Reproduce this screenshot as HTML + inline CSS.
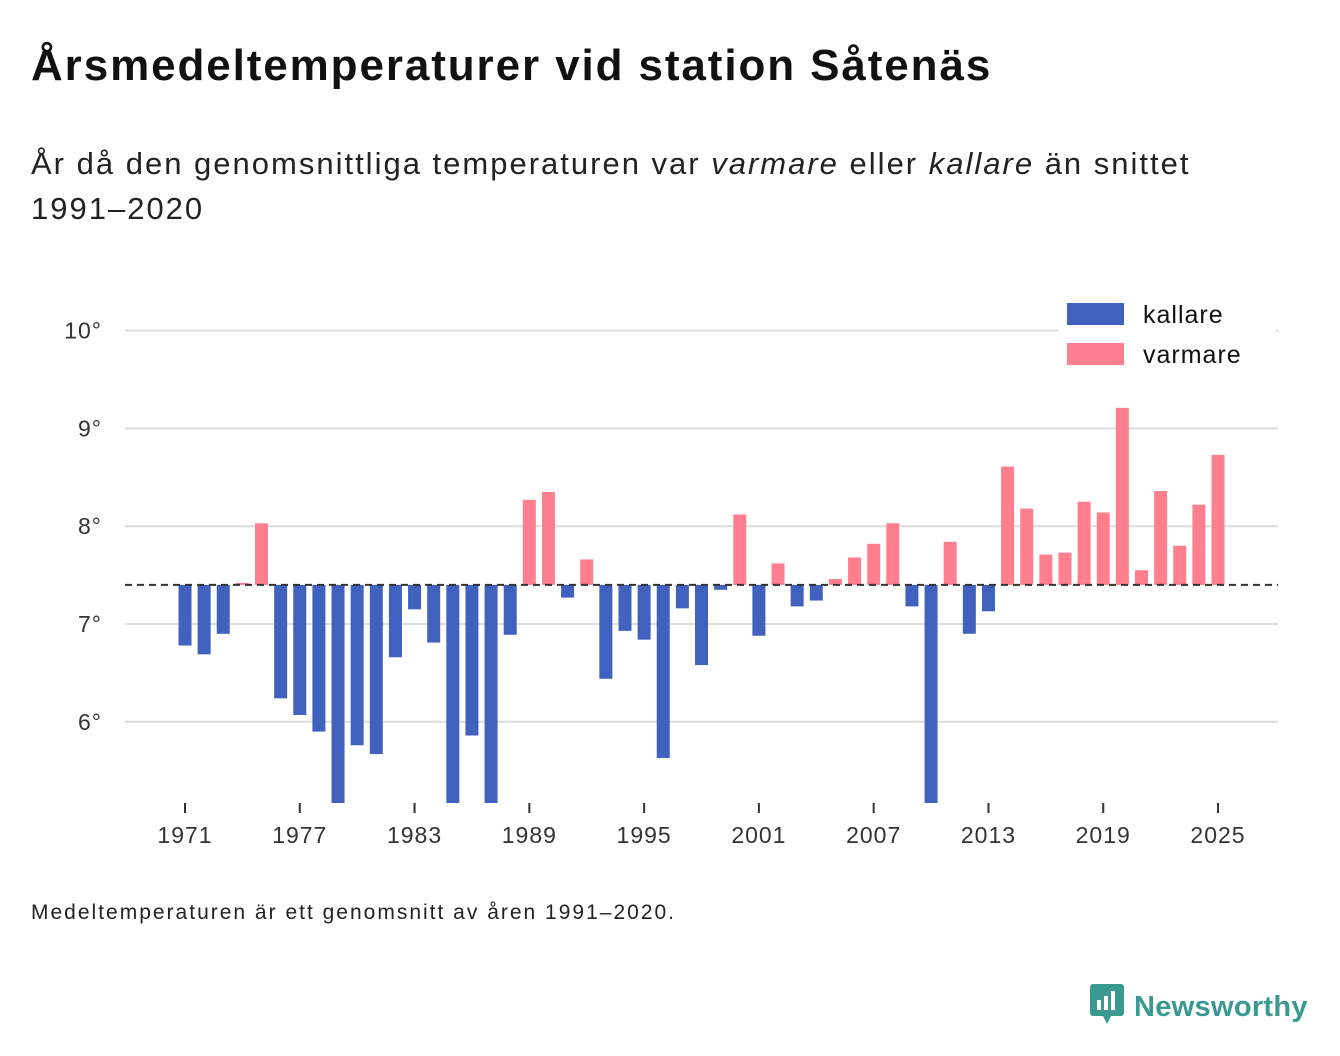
<!DOCTYPE html>
<html><head><meta charset="utf-8"><style>
body{margin:0;background:#fff;font-family:"Liberation Sans","DejaVu Sans",sans-serif;color:#111;}
#wrap{position:relative;width:1340px;height:1056px;overflow:hidden}
h1{position:absolute;left:31px;top:41px;margin:0;font-size:44px;font-weight:bold;letter-spacing:1.9px}
.sub{position:absolute;left:31px;top:141px;font-size:31px;line-height:45px;width:1200px;color:#222;letter-spacing:2px}
.foot{position:absolute;left:31px;top:901px;font-size:21px;color:#222;letter-spacing:2px}
.brand{position:absolute;left:1090px;top:982px;font-size:29px;font-weight:bold;color:#3a9a92;letter-spacing:0.3px}
</style></head><body><div id="wrap">
<h1>Årsmedeltemperaturer vid station Såtenäs</h1>
<div class="sub">År då den genomsnittliga temperaturen var <i>varmare</i> eller <i>kallare</i> än snittet 1991–2020</div>
<svg id="c" width="1340" height="1056" style="position:absolute;left:0;top:0"></svg>
<div class="foot">Medeltemperaturen är ett genomsnitt av åren 1991–2020.</div>
<div class="brand"><svg width="44" height="44" style="vertical-align:-10px"><rect x="0" y="2" width="34" height="32" rx="3" fill="#3a9a92"/><polygon points="13,34 21,34 17,42" fill="#3a9a92"/><rect x="7" y="18" width="4" height="10" fill="#fff"/><rect x="14" y="14" width="4" height="14" fill="#fff"/><rect x="21" y="9" width="4" height="19" fill="#fff"/></svg>Newsworthy</div>
</div>
<script>
const years=[];for(let y=1971;y<=2025;y++)years.push(y);
const temps=[6.78,6.69,6.9,7.42,8.03,6.24,6.07,5.9,5.1,5.76,5.67,6.66,7.15,6.81,5.1,5.86,5.1,6.89,8.27,8.35,7.27,7.66,6.44,6.93,6.84,5.63,7.16,6.58,7.35,8.12,6.88,7.62,7.18,7.24,7.46,7.68,7.82,8.03,7.18,5.1,7.84,6.9,7.13,8.61,8.18,7.71,7.73,8.25,8.14,9.21,7.55,8.36,7.8,8.22,8.73];
const baseline=7.4;
const yTicks=[6,7,8,9,10];
const xTicks=[1971,1977,1983,1989,1995,2001,2007,2013,2019,2025];
const NS="http://www.w3.org/2000/svg",svg=document.getElementById('c');
const yS=v=>624-(v-7)*97.8, xS=y=>185+(y-1971)*19.13;
const bottom=803;
function el(t,a){const e=document.createElementNS(NS,t);for(const k in a)e.setAttribute(k,a[k]);svg.appendChild(e);return e;}
yTicks.forEach(v=>{const l=el('line',{x1:125,x2:1278,y1:yS(v),y2:yS(v),stroke:'#ddd','stroke-width':2});

const t=el('text',{x:102,y:yS(v)+8,'text-anchor':'end','font-size':23,fill:'#333','letter-spacing':1});t.textContent=v+'°';
});
years.forEach((y,i)=>{const v=temps[i];let y1=yS(Math.max(v,baseline)),y2=Math.min(yS(Math.min(v,baseline)),bottom);
const r=el('rect',{x:xS(y)-6.5,y:y1,width:13,height:Math.max(0,y2-y1),fill:v<baseline?'#4062be':'#ff7f8e'});
});
const bl=el('line',{x1:125,x2:1278,y1:yS(baseline),y2:yS(baseline),stroke:'#333','stroke-width':2,'stroke-dasharray':'7,5'});

xTicks.forEach(y=>{const l=el('line',{x1:xS(y),x2:xS(y),y1:803,y2:813,stroke:'#333','stroke-width':2});

const t=el('text',{x:xS(y),y:843,'text-anchor':'middle','font-size':23,fill:'#333','letter-spacing':1});t.textContent=y;
});
const lb=el('rect',{x:1058,y:294,width:218,height:82,fill:'#fff'});

[['kallare','#4062be',303],['varmare','#ff7f8e',343]].forEach(([n,c,y])=>{
const r=el('rect',{x:1067,y:y,width:57,height:22,fill:c});
const t=el('text',{x:1143,y:y+20,'font-size':25,fill:'#111','letter-spacing':1});t.textContent=n;});
</script></body></html>
